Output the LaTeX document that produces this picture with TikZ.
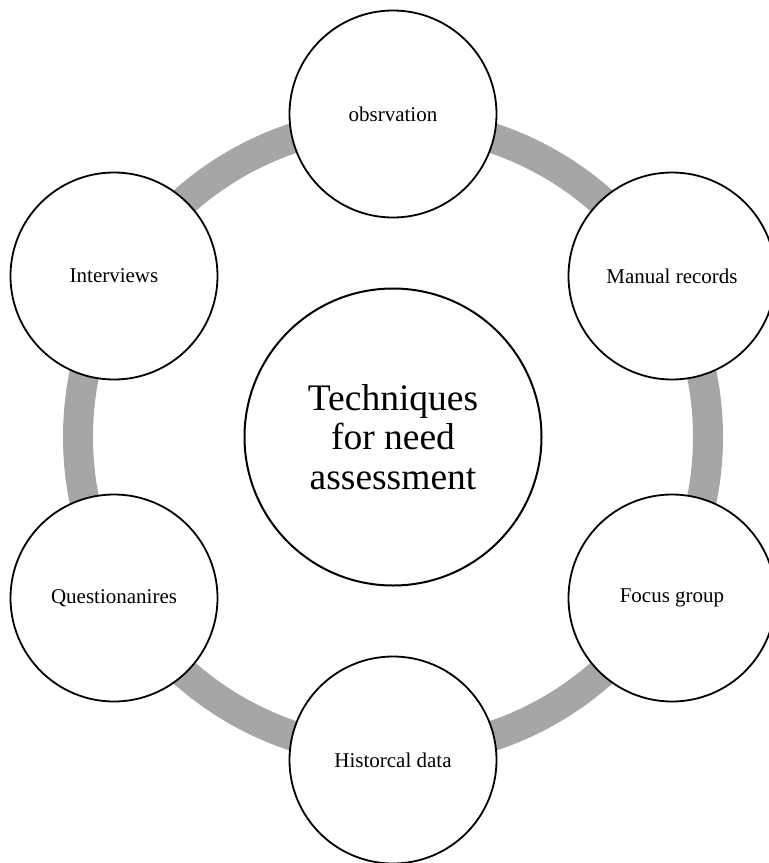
\documentclass[tikz,border=0pt]{standalone}
\usepackage{fontspec}
\setmainfont{Liberation Serif}
\definecolor{ringgray}{RGB}{166,166,166}
\begin{document}
\begin{tikzpicture}[x=1pt,y=-1pt,
  outer/.style={circle,draw=black,line width=1.8pt,fill=white,minimum size=207pt,inner sep=0pt,font=\fontsize{21}{25}\selectfont},
  hub/.style={circle,draw=black,line width=2pt,fill=white,minimum size=297pt,inner sep=0pt,align=center,font=\fontsize{37.5}{39.5}\selectfont},
  ring/.style={draw=ringgray,line width=30pt}]
\useasboundingbox (0,0) rectangle (769,863);
\coordinate (O) at (393,437);
\draw[ring] (O) circle[radius=315pt];
\node[hub] (center) at (O) {Techniques\\for need\\assessment};
\node[outer] (obs) at (393,114) {obsrvation};
\node[outer] (man) at (672,276) {Manual records};
\node[outer] (foc) at (672,598) {Focus group};
\node[outer] (his) at (393,760) {Historcal data};
\node[outer] (que) at (114,598) {Questionanires};
\node[outer] (int) at (114,276) {Interviews};
\end{tikzpicture}
\end{document}
